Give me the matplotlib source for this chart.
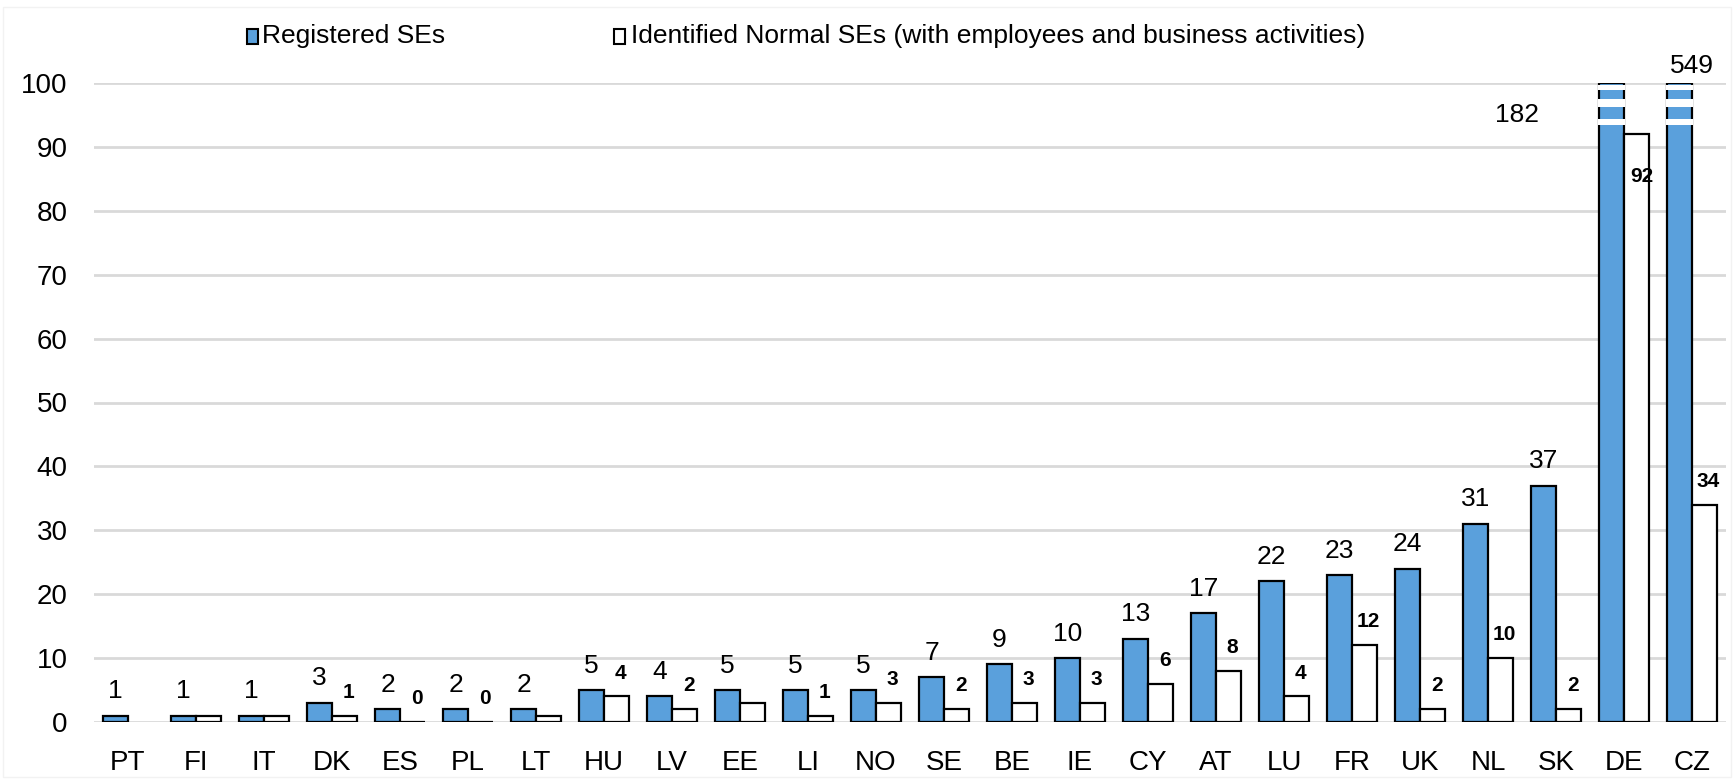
import matplotlib
matplotlib.use("Agg")
import matplotlib.pyplot as plt
from matplotlib.patches import Rectangle
import numpy as np

countries = ["PT", "FI", "IT", "DK", "ES", "PL", "LT", "HU", "LV", "EE", "LI", "NO",
             "SE", "BE", "IE", "CY", "AT", "LU", "FR", "UK", "NL", "SK", "DE", "CZ"]
registered = [1, 1, 1, 3, 2, 2, 2, 5, 4, 5, 5, 5, 7, 9, 10, 13, 17, 22, 23, 24, 31, 37, 182, 549]
normal = [np.nan, 1, 1, 1, 0, 0, 1, 4, 2, 3, 1, 3, 2, 3, 3, 6, 8, 4, 12, 2, 10, 2, 92, 34]
normal_labeled = [False, False, False, True, True, True, False, True, True, False, True, True,
                  True, True, True, True, True, True, True, True, True, True, True, True]

label_reg = "Registered SEs"
label_norm = "Identified Normal SEs (with employees and business activities)"

BLUE = "#5AA0DC"
GRID = "#d9d9d9"
FONT = "Liberation Sans"
plt.rcParams["font.family"] = [FONT, "DejaVu Sans"]

W, H = 1734, 780
fig = plt.figure(figsize=(W / 100, H / 100), dpi=100)
ax = fig.add_axes([94 / W, 58 / H, (1726 - 94) / W, (722 - 83) / H])

YMAX = 100
x = np.arange(len(countries))
bw = 0.365

reg_plot = [min(v, YMAX) for v in registered]
ax.bar(x - bw / 2, reg_plot, width=bw, color=BLUE, edgecolor="black", linewidth=1.6, zorder=3)
ax.bar(x + bw / 2, normal, width=bw, color="white", edgecolor="black", linewidth=1.6, zorder=3)

# break marks on truncated bars
for i, v in enumerate(registered):
    if v > YMAX:
        for lo, hi in [(98.9, 99.7), (96.2, 97.5), (93.4, 94.4)]:
            ax.add_patch(Rectangle((x[i] - bw - 0.02, lo), bw + 0.04, hi - lo,
                                   facecolor="white", edgecolor="none", zorder=4))

ax.set_ylim(0, YMAX)
ax.set_xlim(-0.5, len(countries) - 0.5)
ax.set_yticks(np.arange(0, 101, 10))
ax.yaxis.grid(True, color=GRID, linewidth=2)
ax.set_axisbelow(True)
for s in ax.spines.values():
    s.set_visible(False)
ax.tick_params(axis="both", length=0, labelsize=20, colors="black")
ax.tick_params(axis="y", pad=19)
ax.tick_params(axis="x", pad=20)
ax.set_xticks(x)
ax.set_xticklabels(countries)

# value labels
for i, v in enumerate(registered):
    if v > YMAX:
        continue
    ax.annotate(str(v), (x[i] - bw / 2, v), xytext=(0, 9), textcoords="offset points",
                ha="center", va="bottom", fontsize=19, zorder=5)
# out-of-range labels
ax.text(20.43, 95, str(registered[22]), ha="center", va="center", fontsize=19, clip_on=False)
ax.text(23.0, 102.7, str(registered[23]), ha="center", va="center", fontsize=19, clip_on=False)

for i, v in enumerate(normal):
    if not normal_labeled[i] or np.isnan(v):
        continue
    if v > 85:
        ax.annotate(str(int(v)), (x[i] + bw / 2, v), xytext=(4, -24), textcoords="offset points",
                    ha="center", va="top", fontsize=15, fontweight="bold", zorder=5)
    else:
        ax.annotate(str(int(v)), (x[i] + bw / 2, v), xytext=(3, 10), textcoords="offset points",
                    ha="center", va="bottom", fontsize=15, fontweight="bold", zorder=5)

# legend (manual)
sq = 11
fig.patches.append(Rectangle((247 / W, (H - 36 - sq / 2 - 2) / H), sq / W, (sq + 3) / H,
                             transform=fig.transFigure, facecolor=BLUE, edgecolor="black",
                             linewidth=1.5))
fig.text(262 / W, 1 - 36 / H, label_reg, ha="left", va="center", fontsize=19)
fig.patches.append(Rectangle((614 / W, (H - 36 - sq / 2 - 2) / H), sq / W, (sq + 3) / H,
                             transform=fig.transFigure, facecolor="white", edgecolor="black",
                             linewidth=1.5))
fig.text(631 / W, 1 - 36 / H, label_norm, ha="left", va="center", fontsize=19)

fig.patches.append(Rectangle((3 / W, 3 / H), (W - 6) / W, (H - 10) / H, transform=fig.transFigure,
                             facecolor="none", edgecolor="#f2f2f2", linewidth=1))

fig.savefig("out.png", dpi=100)
